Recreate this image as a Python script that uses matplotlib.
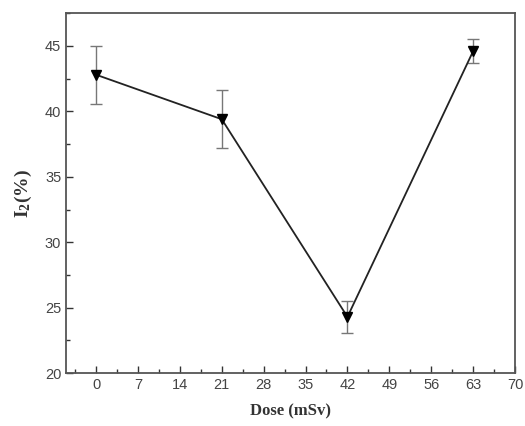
import numpy as np
import matplotlib.pyplot as plt
from matplotlib.ticker import MultipleLocator

plt.rcParams['mathtext.fontset'] = 'custom'
plt.rcParams['mathtext.rm'] = 'Liberation Serif:bold'
plt.rcParams['mathtext.it'] = 'Liberation Serif:bold'
plt.rcParams['mathtext.bf'] = 'Liberation Serif:bold'

dose = [0, 21, 42, 63]
i2 = [42.8, 39.4, 24.3, 44.6]
err = [2.2, 2.2, 1.2, 0.9]
xticks = [0, 7, 14, 21, 28, 35, 42, 49, 56, 63, 70]

fig = plt.figure(figsize=(5.25, 4.26), dpi=100)
ax = fig.add_axes([0.126, 0.124, 0.855, 0.845])

ax.errorbar(dose, i2, yerr=err, fmt='none', ecolor='#777777', elinewidth=1.0,
            capsize=4, capthick=1.0, zorder=2)
ax.plot(dose, i2, color='#222222', lw=1.3, marker='v', ms=6.5,
        mfc='black', mec='black', zorder=3)

ax.set_xlim(-5, 70)
ax.set_ylim(20, 47.5)
ax.set_xticks(xticks)
ax.xaxis.set_minor_locator(MultipleLocator(3.5))
ax.yaxis.set_major_locator(MultipleLocator(5))
ax.yaxis.set_minor_locator(MultipleLocator(2.5))

ax.tick_params(which='both', direction='in', top=False, right=False,
               colors='#333333', labelcolor='#444444', labelsize=10.5)
ax.tick_params(which='major', length=5, width=1)
ax.tick_params(which='minor', length=3, width=1)
for t in ax.get_xticklabels() + ax.get_yticklabels():
    t.set_family('Liberation Sans')

for s in ax.spines.values():
    s.set_color('#555555')
    s.set_linewidth(1.3)

ax.set_xlabel('Dose (mSv)', family='Liberation Serif', fontweight='bold',
              fontsize=12, color='#333333', labelpad=8)
ax.set_ylabel(r'I$_\mathrm{2}$(%)', family='Liberation Serif', fontweight='bold',
              fontsize=14, color='#333333', labelpad=8)

fig.savefig('out.png', dpi=100)
